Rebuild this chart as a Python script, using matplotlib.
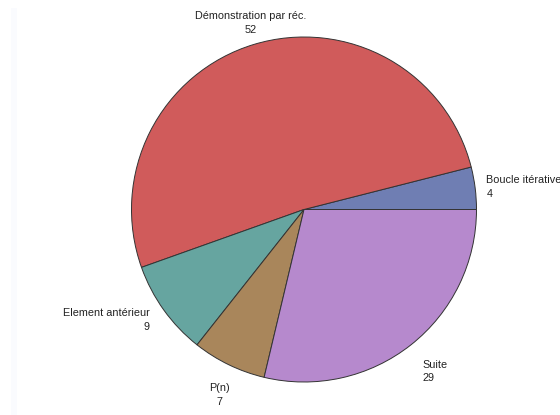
import numpy as np
import matplotlib.pyplot as plt
from matplotlib.patches import Rectangle

plt.rcParams['font.family'] = ['Liberation Sans', 'DejaVu Sans']

labels = ['Boucle itérative', 'Démonstration par réc.', 'Element antérieur', 'P(n)', 'Suite']
values = [4, 52, 9, 7, 29]
colors = ['#6F7EB3', '#D05B5B', '#66A5A0', '#A9865B', '#B689CD']

fig = plt.figure(figsize=(5.6, 4.15), dpi=100)
fig.patches.append(Rectangle((11 / 560, 0), 6 / 560, 407 / 415, transform=fig.transFigure,
                             facecolor='#FAFBFE', edgecolor='none'))
ax = fig.add_axes([0, 0, 1, 1])
ax.axis('off')

texts = [f'{l}\n{v}' for l, v in zip(labels, values)]
wedges, txts = ax.pie(values, labels=texts, colors=colors, startangle=0,
                      counterclock=True, labeldistance=1.05,
                      wedgeprops=dict(edgecolor='#333333', linewidth=0.7),
                      textprops=dict(fontsize=7.8, color='#222222', linespacing=1.45))

# label placement like the original (box placed next to the slice)
align = [('left', 'center'), ('center', 'bottom'), ('right', 'center'),
         ('center', 'top'), ('left', 'top')]
multi = ['left', 'center', 'right', 'center', 'left']
dist = [1.065, 1.06, 1.10, 1.12, 1.11]
for w, t, (ha, va), m, d in zip(wedges, txts, align, multi, dist):
    ang = np.deg2rad((w.theta1 + w.theta2) / 2)
    t.set_position((d * np.cos(ang), d * np.sin(ang)))
    t.set_ha(ha)
    t.set_va(va)
    t.set_multialignment(m)

ax.set_aspect('auto')
ax.set_xlim(-304 / 172.5, (560 - 304) / 172.5)
ax.set_ylim(-(415 - 209.5) / 172.5, 209.5 / 172.5)

fig.savefig('out.png', dpi=100, facecolor='white')
